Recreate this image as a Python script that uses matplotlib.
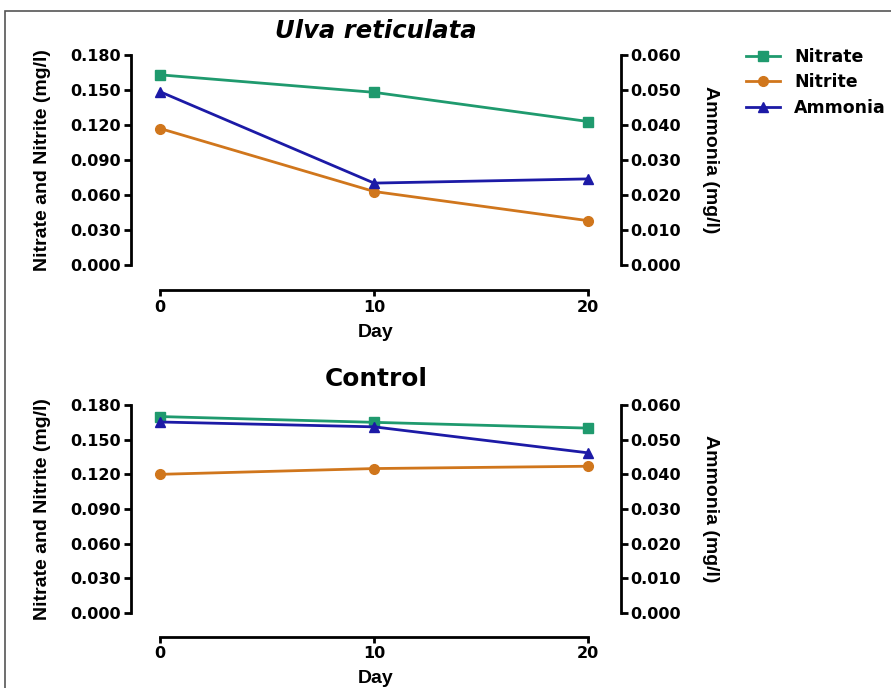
import numpy as np
import matplotlib
matplotlib.use('Agg')
import matplotlib.pyplot as plt
from matplotlib.patches import Rectangle

plt.rcParams['font.family'] = ['Liberation Sans', 'DejaVu Sans']
plt.rcParams['font.weight'] = 'bold'

days = [0, 10, 20]

# Ulva reticulata
ulva_nitrate = [0.163, 0.148, 0.123]
ulva_nitrite = [0.117, 0.063, 0.038]
ulva_ammonia = [0.0495, 0.0234, 0.0246]

# Control
ctrl_nitrate = [0.170, 0.165, 0.160]
ctrl_nitrite = [0.120, 0.125, 0.127]
ctrl_ammonia = [0.0551, 0.0537, 0.0462]

left_ticks = [0.000, 0.030, 0.060, 0.090, 0.120, 0.150, 0.180]
right_ticks = [0.000, 0.010, 0.020, 0.030, 0.040, 0.050, 0.060]

c_nitrate = '#1f9a6e'
c_nitrite = '#d0761c'
c_ammonia = '#1c1aa6'

wide = 'DejaVu Sans'      # the reference text looks stretched sideways
narrow = 'Liberation Sans'

W, H = 891, 688
fig = plt.figure(figsize=(W / 100, H / 100), dpi=100)

# thin frame round the figure
fig.patches.append(Rectangle((5 / W, -0.01), 1.0, 1 - 11 / H + 0.01, transform=fig.transFigure,
                             fill=False, edgecolor='#555555', linewidth=1.2))


def panel(rect, title, italic, tsize, tpad, nitrate, nitrite, ammonia, offset, xpad, legend=False):
    ax = fig.add_axes(rect)
    ax2 = ax.twinx()
    # spine position first: it resets the ticks
    ax.spines['bottom'].set_position(('outward', offset))
    ax.spines['bottom'].set_bounds(0, 20)
    l1, = ax.plot(days, nitrate, color=c_nitrate, marker='s', markersize=7, lw=2, label='Nitrate')
    l2, = ax.plot(days, nitrite, color=c_nitrite, marker='o', markersize=7, lw=2, label='Nitrite')
    l3, = ax2.plot(days, ammonia, color=c_ammonia, marker='^', markersize=7, lw=2, label='Ammonia')
    ax.set_xlim(-1.36, 21.54)
    ax.set_ylim(0, 0.18)
    ax2.set_ylim(0, 0.06)
    ax.set_yticks(left_ticks)
    ax.set_yticklabels(['%.3f' % v for v in left_ticks])
    ax2.set_yticks(right_ticks)
    ax2.set_yticklabels(['%.3f' % v for v in right_ticks])
    ax.set_xticks(days)
    ax.set_xticklabels([str(d) for d in days])
    for a in (ax, ax2):
        a.spines['top'].set_visible(False)
        for s in a.spines.values():
            s.set_linewidth(2)
    ax.spines['right'].set_visible(False)
    ax2.spines['left'].set_visible(False)
    ax2.spines['bottom'].set_visible(False)
    ax.tick_params(axis='y', width=2, length=5, pad=2, labelsize=11.5)
    ax2.tick_params(axis='y', width=2, length=5, pad=2, labelsize=11.5)
    ax.tick_params(axis='x', width=2, length=4, pad=3, labelsize=11.5)
    for t in ax.get_xticklabels() + ax.get_yticklabels() + ax2.get_yticklabels():
        t.set_family(wide)
        t.set_fontweight('bold')
    ax.set_xlabel('Day', fontsize=14, fontweight='bold', family=narrow, labelpad=xpad)
    ax.set_ylabel('Nitrate and Nitrite (mg/l)', fontsize=14, fontweight='bold', family=narrow,
                  labelpad=14)
    ax2.set_ylabel('Ammonia (mg/l)', fontsize=14, fontweight='bold', family=narrow,
                   rotation=-90, labelpad=27)
    ax.set_title(title, fontsize=tsize, fontweight='bold', family=wide,
                 style='italic' if italic else 'normal', pad=tpad)
    if legend:
        ax.legend(handles=[l1, l2, l3], loc='upper left', bbox_to_anchor=(737 / W, 1 - 39 / H),
                  bbox_transform=fig.transFigure, frameon=False, borderpad=0,
                  prop={'family': wide, 'weight': 'bold', 'size': 12.5},
                  handlelength=2.0, handletextpad=0.8, labelspacing=0.45)
    return ax


panel([131 / W, 1 - 265 / H, 490 / W, 210 / H], 'Ulva reticulata', True, 17.5, 12,
      ulva_nitrate, ulva_nitrite, ulva_ammonia, 18, 7, legend=True)
panel([131 / W, 1 - 613 / H, 490 / W, 208 / H], 'Control', False, 17.8, 14,
      ctrl_nitrate, ctrl_nitrite, ctrl_ammonia, 17, 6)

fig.savefig('out.png', dpi=100)
